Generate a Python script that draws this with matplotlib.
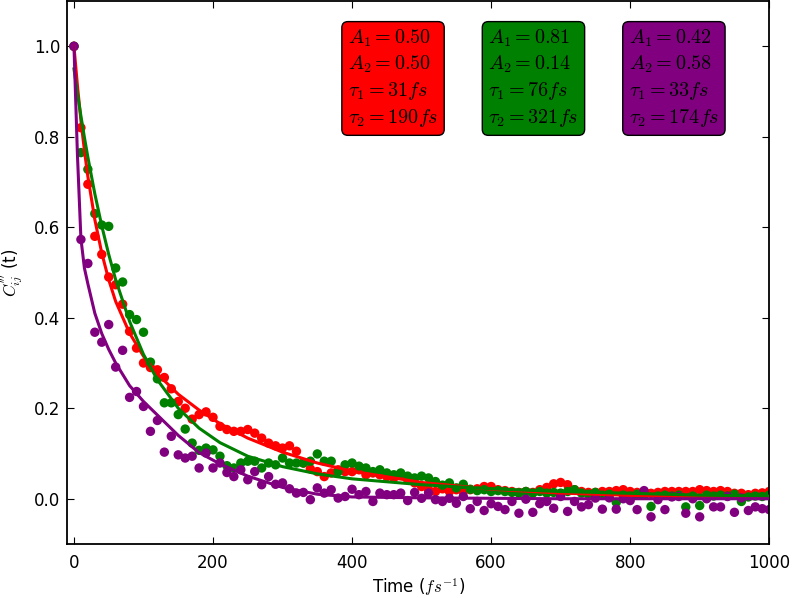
import matplotlib
matplotlib.use('Agg')
import matplotlib.pyplot as plt
import numpy as np

plt.rcParams['mathtext.fontset'] = 'cm'
plt.rcParams['font.family'] = 'DejaVu Sans'

# time axis of the sampled correlation function (fs)
time = np.arange(0, 1001, 10)

red_pts = [
    1.00, 0.82, 0.695, 0.58, 0.54, 0.49, 0.473, 0.43, 0.37, 0.333,
    0.30, 0.29, 0.285, 0.268, 0.243, 0.215, 0.20, 0.176, 0.186, 0.192,
    0.18, 0.16, 0.153, 0.149, 0.149, 0.153, 0.145, 0.134, 0.123, 0.117,
    0.112, 0.117, 0.105, 0.079, 0.066, 0.06, 0.049, 0.057, 0.064, 0.06,
    0.06, 0.064, 0.053, 0.057, 0.053, 0.049, 0.046, 0.053, 0.042, 0.035,
    0.027, 0.02, 0.016, 0.022, 0.016, 0.02, 0.016, 0.02, 0.022, 0.027,
    0.027, 0.02, 0.018, 0.016, 0.014, 0.016, 0.014, 0.02, 0.025, 0.033,
    0.036, 0.031, 0.02, 0.016, 0.014, 0.014, 0.016, 0.016, 0.018, 0.02,
    0.016, 0.014, 0.016, 0.012, 0.014, 0.016, 0.016, 0.016, 0.016, 0.016,
    0.02, 0.018, 0.016, 0.018, 0.016, 0.012, 0.012, 0.009, 0.012, 0.013,
    0.016,
]
green_pts = [
    1.00, 0.765, 0.728, 0.63, 0.605, 0.602, 0.51, 0.479, 0.407, 0.396,
    0.368, 0.302, 0.265, 0.212, 0.212, 0.186, 0.154, 0.123, 0.107, 0.112,
    0.108, 0.094, 0.073, 0.068, 0.079, 0.083, 0.083, 0.068, 0.079, 0.075,
    0.09, 0.079, 0.079, 0.079, 0.083, 0.099, 0.083, 0.083, 0.06, 0.075,
    0.079, 0.072, 0.068, 0.06, 0.064, 0.057, 0.053, 0.057, 0.05, 0.046,
    0.05, 0.046, 0.038, 0.03, 0.035, 0.024, 0.032, 0.021, 0.018, 0.02,
    0.016, 0.018, 0.016, 0.014, 0.0125, 0.016, 0.0125, 0.016, 0.0125, 0.014,
    0.0125, 0.016, 0.02, 0.0125, 0.01, 0.014, 0.008, 0.01, -0.008, 0.008,
    0.006, 0.01, 0.008, -0.017, 0.006, 0.008, 0.006, 0.008, -0.018, 0.006,
    -0.015, 0.008, 0.006, 0.008, 0.006, 0.01, -0.006, 0.004, 0.006, 0.005,
    0.008,
]
purple_pts = [
    1.00, 0.573, 0.52, 0.368, 0.346, 0.385, 0.291, 0.328, 0.224, 0.237,
    0.204, 0.149, 0.173, 0.103, 0.138, 0.097, 0.09, 0.094, 0.068, 0.101,
    0.068, 0.079, 0.058, 0.049, 0.064, 0.042, 0.06, 0.031, 0.049, 0.032,
    0.035, 0.022, 0.0125, 0.014, -0.002, 0.024, 0.0125, 0.02, 0.0015, 0.005,
    0.021, 0.009, 0.016, -0.006, 0.0125, 0.009, 0.009, 0.0125, -0.004, 0.014,
    0.001, 0.0125, -0.002, -0.006, 0.001, -0.01, 0.005, -0.022, -0.006, -0.026,
    -0.011, -0.017, -0.024, -0.006, -0.032, -0.001, -0.03, -0.011, -0.006, -0.021,
    0.005, -0.028, -0.006, -0.018, -0.013, 0.0015, -0.023, 0.002, -0.023, 0.0,
    -0.004, -0.024, 0.018, -0.04, -0.002, -0.024, 0.004, 0.005, -0.032, 0.0,
    -0.04, 0.0, -0.018, -0.018, 0.005, -0.03, 0.002, -0.026, -0.018, -0.022,
    -0.024,
]

# fitted curves, read at these times
fit_t = [0, 5, 10, 15, 20, 30, 40, 50, 60, 80, 100, 120, 150, 180, 210,
         250, 300, 350, 400, 500, 600, 700, 800, 900, 1000]
red_fit = [1.0, 0.913, 0.836, 0.770, 0.712, 0.617, 0.543, 0.484, 0.436, 0.366,
           0.315, 0.276, 0.231, 0.196, 0.166, 0.134, 0.103, 0.079, 0.061,
           0.036, 0.021, 0.0126, 0.0074, 0.0044, 0.0026]
green_fit = [0.95, 0.896, 0.846, 0.799, 0.755, 0.674, 0.603, 0.540, 0.484, 0.392,
             0.319, 0.263, 0.200, 0.156, 0.124, 0.094, 0.071, 0.055, 0.044,
             0.031, 0.022, 0.016, 0.012, 0.008, 0.006]
purple_fit = [1.0, 0.76, 0.575, 0.51, 0.475, 0.41, 0.365, 0.33, 0.30, 0.25,
              0.215, 0.185, 0.14, 0.102, 0.077, 0.05, 0.025, 0.01, 0.004,
              0.002, 0.001, 0.0, 0.0, 0.0, 0.0]

labels = [
    ('red', '0.50', '0.50', '31', '190'),
    ('green', '0.81', '0.14', '76', '321'),
    ('purple', '0.42', '0.58', '33', '174'),
]

fig = plt.figure(figsize=(7.93, 5.98), dpi=100)
ax = fig.add_axes([0.0845, 0.0903, 0.8855, 0.908])

for col, pts, fit in [('red', red_pts, red_fit),
                      ('green', green_pts, green_fit),
                      ('purple', purple_pts, purple_fit)]:
    ax.scatter(time, pts, s=46, color=col, edgecolors='none', zorder=2)
    ax.plot(fit_t, fit, color=col, lw=2.2, zorder=3)

for i, (col, a1, a2, t1, t2) in enumerate(labels):
    txt = (r'$A_1 =' + a1 + '$\n' + r'$A_2 =' + a2 + '$\n'
           + r'$\tau_1 =' + t1 + 'fs$\n' + r'$\tau_2 =' + t2 + 'fs$')
    ax.text(0.40 + 0.20 * i, 0.952, txt, transform=ax.transAxes,
            fontsize=14.5, va='top', ha='left', linespacing=1.32,
            bbox=dict(boxstyle='round,pad=0.3', facecolor=col,
                      edgecolor='black', lw=1), zorder=5)

ax.set_xlim(-10, 1000)
ax.set_ylim(-0.1, 1.1)
ax.set_xticks([0, 200, 400, 600, 800, 1000])
ax.set_yticks([0.0, 0.2, 0.4, 0.6, 0.8, 1.0])
ax.tick_params(direction='in', top=True, right=True, length=5, labelsize=12)
ax.tick_params(axis='x', pad=7)
ax.tick_params(axis='y', pad=5)
for s in ax.spines.values():
    s.set_linewidth(1.3)
ax.set_xlabel(r'Time ($fs^{-1}$)', fontsize=12, labelpad=3)
ax.set_ylabel(r"$C_{ij}^{'''}$ (t)", fontsize=12, labelpad=6)

fig.savefig('out.png', dpi=100)
